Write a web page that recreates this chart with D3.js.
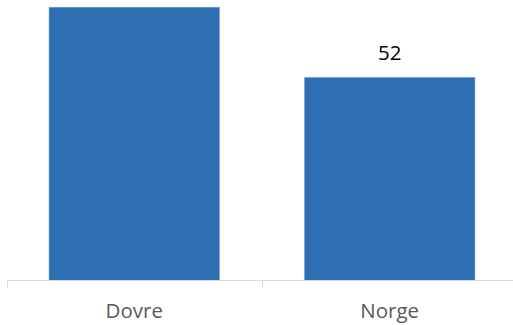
<!DOCTYPE html>
<html><head><meta charset="utf-8">
<script src="https://cdn.jsdelivr.net/npm/d3@7"></script>
<style>html,body{margin:0;padding:0;background:#fff;overflow:hidden}</style>
</head><body>
<svg id="c" width="513" height="325"></svg>
<script>
const categories = ["Dovre", "Norge"];
const values = [70, 52];

const svg = d3.select("#c");
const baseY = 280.5;
const x = d3.scaleBand().domain(categories).range([6.5, 517.5]).paddingInner(1/3).paddingOuter(1/6);
const y = d3.scaleLinear().domain([0, 52]).range([baseY, 77.5]);

svg.selectAll("rect.bar").data(values).join("rect")
  .attr("class", "bar")
  .attr("x", (d, i) => x(categories[i]))
  .attr("width", x.bandwidth())
  .attr("y", d => y(d))
  .attr("height", d => baseY - y(d))
  .attr("fill", "#2E6FB4")
  .attr("stroke", "#6E9BD0")
  .attr("stroke-width", 0.6);

// value labels (the one above the tallest bar falls outside the visible area, as in the reference)
const labelData = values.map((d, i) => ({v: d, c: categories[i]})).filter(d => y(d.v) - 18 - 16 > 0);
svg.selectAll("text.val").data(labelData).join("text")
  .attr("class", "val")
  .attr("x", d => x(d.c) + x.bandwidth() / 2)
  .attr("y", d => y(d.v) - 18)
  .attr("text-anchor", "middle")
  .attr("font-family", "'Open Sans', sans-serif")
  .attr("font-size", 20.5)
  .attr("fill", "#000")
  .text(d => d.v);

const g = svg.append("g").attr("transform", `translate(0,${baseY})`);
g.append("line").attr("x1", 7).attr("x2", 513).attr("y1", 0).attr("y2", 0)
  .attr("stroke", "#d9d9d9").attr("stroke-width", 1.2);
const bounds = [x.range()[0], x.range()[0] + x.step()];
g.selectAll("line.tk").data(bounds).join("line").attr("class", "tk")
  .attr("x1", d => Math.round(d) + 0.5).attr("x2", d => Math.round(d) + 0.5)
  .attr("y1", 0).attr("y2", 7).attr("stroke", "#d9d9d9").attr("stroke-width", 1);

g.selectAll("text.cat").data(categories).join("text").attr("class", "cat")
  .attr("x", d => x(d) + x.bandwidth() / 2)
  .attr("y", 37)
  .attr("text-anchor", "middle")
  .attr("font-family", "'Open Sans', sans-serif")
  .attr("font-size", 20.5)
  .attr("fill", "#595959")
  .text(d => d);
</script>
</body></html>
